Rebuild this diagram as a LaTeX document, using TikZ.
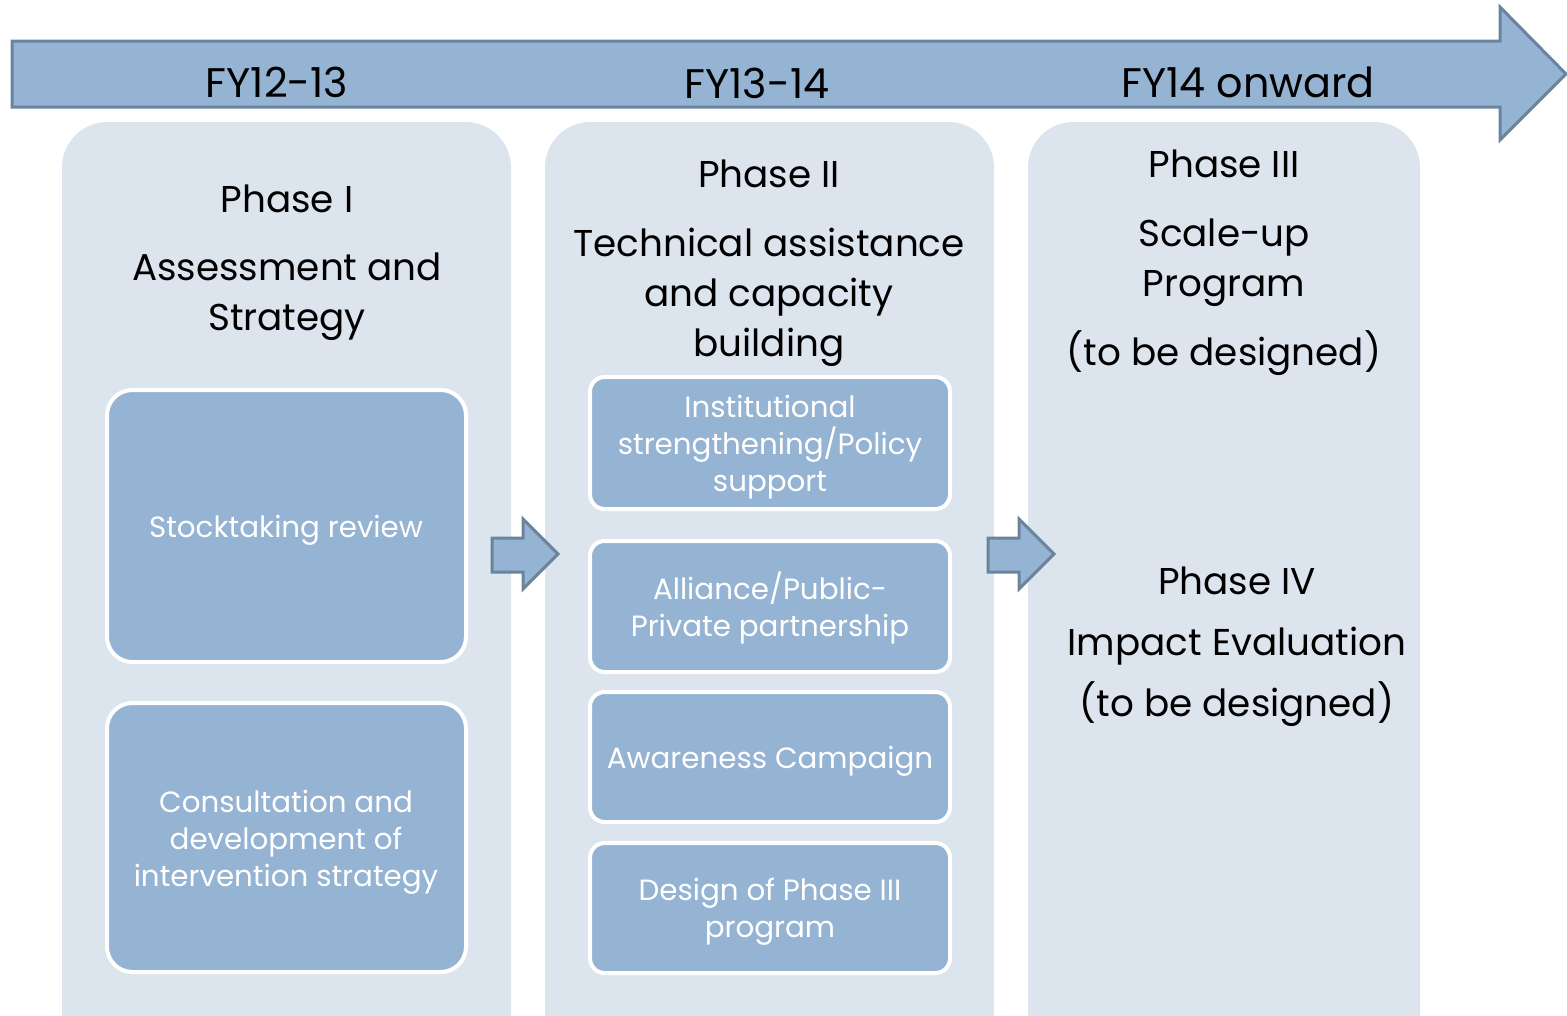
\documentclass[tikz,border=0pt]{standalone}
\usepackage{fontspec}
\setmainfont{Poppins}
\usepackage{xcolor}
\usepackage{tikz}
\usetikzlibrary{shapes,arrows,fit}
\definecolor{steel}{RGB}{149,179,210}
\definecolor{steeldark}{RGB}{105,132,156}
\definecolor{pale}{RGB}{220,228,238}
\tikzstyle{panel} = [fill=pale, rounded corners=34pt, inner sep=0pt]
\tikzstyle{block} = [fill=steel, draw=white, line width=3pt, rounded corners=19pt, inner sep=0pt]
\tikzstyle{smallblock} = [block, rounded corners=11pt]
\tikzstyle{boxtext} = [text=white, align=center, anchor=base, font=\fontsize{22}{27.75}\selectfont]
\tikzstyle{title} = [align=center, anchor=base, font=\fontsize{28}{37.5}\selectfont]
\tikzstyle{year} = [anchor=base, font=\fontsize{31}{37.5}\selectfont]
\tikzstyle{line} = [draw=steeldark, fill=steel, line width=2.25pt, miter limit=10]

\begin{document}
\begin{tikzpicture}[x=0.75pt,y=-0.75pt]
  \useasboundingbox (0,0) rectangle (1567,1015);

  % time line
  \draw [line] (12,41) -- (1500,41) -- (1500,7) -- (1566,74) -- (1500,140) -- (1500,107) -- (12,107) -- cycle;
  \node [year] (fy1) at (277,97) {FY12-13};
  \node [year] (fy2) at (757,98) {FY13-14};
  \node [year] (fy3) at (1248,97) {FY14 onward};

  \begin{scope}
    \clip (0,0) rectangle (1567,1015);
    \node [panel, fit={(62,122) (511,1090)}] (ph1) {};
    \node [panel, fit={(545,122) (994,1090)}] (ph2) {};
    \node [panel, fit={(1028,122) (1420,1090)}] (ph3) {};
  \end{scope}

  % anchor=base sits on the last line
  \node [title] (t1) at (287,212) {Phase I};
  \node [title] (t1b) at (287,330) {Assessment and\\Strategy};
  \node [title] (t2) at (769,187) {Phase II};
  \node [title] (t2b) at (769,356) {Technical assistance\\and capacity\\building};
  \node [title] (t3) at (1224,177) {Phase III};
  \node [title] (t3b) at (1224,296) {Scale-up\\Program};
  \node [title] (t3c) at (1224,365) {(to be designed)};
  \node [title] (t4) at (1237,594) {Phase IV};
  \node [title] (t4b) at (1237,655) {Impact Evaluation};
  \node [title] (t4c) at (1237,716) {(to be designed)};

  \node [block, fit={(107,390) (466,662)}] (stock) {};
  \node [block, fit={(107,703) (466,972)}] (consult) {};
  \node [smallblock, fit={(590,377) (950,509)}] (inst) {};
  \node [smallblock, fit={(590,541) (950,672)}] (alli) {};
  \node [smallblock, fit={(590,692) (950,822)}] (aware) {};
  \node [smallblock, fit={(590,843) (950,973)}] (design) {};

  \node [boxtext] at (286,537) {Stocktaking review};
  \node [boxtext] at (286,886) {Consultation and\\development of\\intervention strategy};
  \node [boxtext] at (770,491) {Institutional\\strengthening/Policy\\support};
  \node [boxtext] at (770,636) {Alliance/Public-\\Private partnership};
  \node [boxtext] at (770,768) {Awareness Campaign};
  \node [boxtext] at (770,937) {Design of Phase III\\program};

  % arrows between the phases
  \foreach \dx in {0,496}
    \draw [line, xshift=\dx*0.75pt] (492,538) -- (523,538) -- (523,519) -- (558,554) -- (523,589) -- (523,572) -- (492,572) -- cycle;

\end{tikzpicture}
\end{document}
